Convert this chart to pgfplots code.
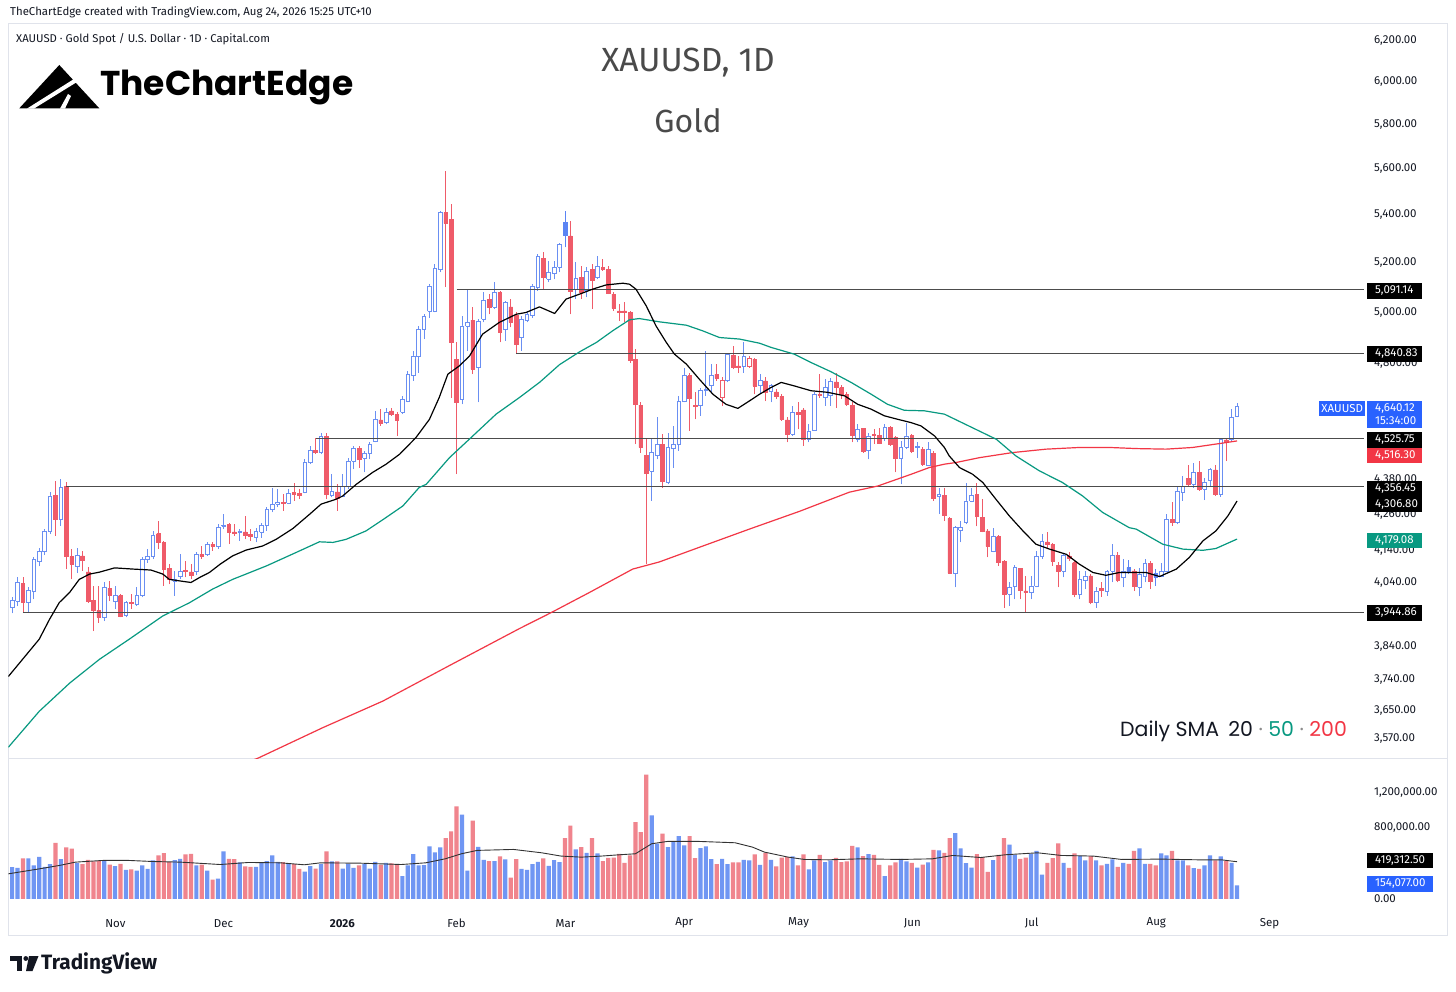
\documentclass[border=0pt]{standalone}
\usepackage{graphicx}
\usepackage{pgfplots}
\pgfplotsset{compat=1.18}
\usepackage{pgfplotstable}
\usepackage{fontspec}
\setmainfont{Fira Sans}
\newfontfamily\pop{Poppins}
\definecolor{cblue}{HTML}{6A8FF2}
\definecolor{cbluef}{HTML}{5B84F4}
\definecolor{cred}{HTML}{EF5B69}
\definecolor{vblue}{HTML}{7096F3}
\definecolor{vred}{HTML}{F0848D}
\definecolor{smagreen}{HTML}{089981}
\definecolor{smared}{HTML}{F23645}
\definecolor{tvblue}{HTML}{2962FF}
\definecolor{framec}{HTML}{E0E3EB}
\definecolor{ink}{HTML}{131722}
\definecolor{titlegray}{HTML}{4A4A4A}
\newcommand\lbl{\fontsize{11.5}{13}\selectfont}
\pgfplotsset{
 wk1/.style={draw=cblue, line width=0.8pt, forget plot},
 wk2/.style={draw=cred, line width=0.8pt, forget plot},
 wk3/.style={draw=cbluef, line width=0.8pt, forget plot},
 wk4/.style={draw=cred, line width=0.8pt, forget plot},
 bd1/.style={draw=cblue, fill=white, line width=0.8pt, forget plot},
 bd2/.style={draw=cred, fill=cred, line width=0.6pt, forget plot},
 bd3/.style={draw=cbluef, fill=cbluef, line width=0.6pt, forget plot},
 bd4/.style={draw=cred, fill=white, line width=0.8pt, forget plot},
}

% i = bar index, O H L C = prices, t = candle style, V = volume (thousands), vc = volume colour
\pgfplotstableread{
i O H L C t V vc
0 3959 3994 3941 3982 1 358 1
1 3979 4055 3963 4039 1 351 1
2 4036 4055 3944.86 3974 2 456 2
3 3974 4023 3946 4014 1 456 1
4 4011 4119 3985 4111 1 377 1
5 4107 4149 4090 4137 1 475 1
6 4137 4212 4126 4206 1 362 1
7 4203 4337 4195 4324 1 392 1
8 4327 4376 4190 4245 2 633 2
9 4243 4382 4223 4353 1 449 1
10 4356.45 4371 4081 4121 2 581 2
11 4121 4146 4048 4097 2 566 2
12 4091 4149 4068 4124 1 407 1
13 4124 4140 4075 4111 2 392 2
14 4072 4087 3975 3979 2 441 2
15 3982 4027 3886 3951 2 422 2
16 3951 4027 3912 3929 2 430 2
17 3929 4038 3917 4022 1 430 1
18 4020 4043 3979 3998 2 388 2
19 3978 4027 3954 3997 1 369 1
20 3997 4001 3929 3932 2 396 2
21 3934 3979 3929 3974 1 328 1
22 3976 4001 3954 3972 2 332 2
23 3969 4022 3964 3997 1 320 1
24 3997 4119 3991 4113 1 377 1
25 4111 4146 4102 4121 1 339 1
26 4121 4206 4113 4192 1 434 1
27 4197 4239 4146 4168 2 490 2
28 4168 4173 4027 4081 2 516 2
29 4083 4097 4032 4048 2 415 2
30 4043 4075 3997 4048 1 437 1
31 4059 4129 4048 4072 1 452 1
32 4078 4107 4054 4075 2 501 2
33 4072 4097 4048 4061 2 509 2
34 4072 4135 4061 4129 1 377 1
35 4129 4155 4113 4124 2 388 2
36 4129 4170 4124 4162 1 320 1
37 4162 4169 4140 4156 2 219 2
38 4156 4228 4146 4217 1 230 1
39 4221 4262 4212 4225 1 535 1
40 4228 4234 4162 4203 2 452 2
41 4203 4228 4190 4198 2 449 2
42 4201 4212 4173 4206 1 411 1
43 4203 4256 4178 4193 2 366 2
44 4195 4212 4173 4187 2 362 2
45 4184 4217 4168 4203 1 362 1
46 4201 4234 4184 4225 1 411 1
47 4223 4285 4206 4277 1 426 1
48 4277 4353 4268 4296 1 490 1
49 4296 4347 4285 4302 1 418 1
50 4302 4330 4273 4298 2 415 2
51 4299 4347 4296 4333 1 403 1
52 4336 4370 4307 4330 2 392 2
53 4333 4347 4313 4327 2 339 2
54 4336 4451 4333 4442 1 309 1
55 4442 4499 4434 4481 1 369 1
56 4483 4525.75 4469 4477 2 343 2
57 4475 4546 4469 4534 1 392 1
58 4532 4546 4313 4330 2 535 2
59 4327 4399 4319 4341 1 422 1
60 4338 4364 4273 4315 2 422 2
61 4324 4399 4319 4358 1 343 1
62 4356 4457 4347 4445 1 396 1
63 4445 4499 4416 4489 1 351 1
64 4489 4499 4422 4451 2 377 2
65 4454 4481 4405 4473 1 392 1
66 4473 4511 4451 4505 1 343 1
67 4516 4625 4511 4592 1 418 1
68 4592 4631 4570 4580 2 385 2
69 4582 4637 4576 4621 1 407 1
70 4625 4634 4607 4613 2 400 2
71 4613 4619 4534 4592 2 385 2
72 4619 4680 4613 4668 1 256 1
73 4661 4773 4656 4761 1 377 1
74 4758 4850 4736 4830 1 505 1
75 4827 4946 4767 4934 1 377 1
76 4934 4992 4895 4982 1 381 1
77 5005 5112 4979 5105 1 592 1
78 5005 5194 4999 5177 1 524 1
79 5173 5417 5160 5410 1 581 1
80 5410 5591 5100 5364 2 686 2
81 5382 5446 4674 4882 2 762 2
82 4818 4882 4399 4656 2 1044 2
83 4668 4986 4649 4946 1 950 1
84 4946 5088 4850 4960 1 320 1
85 4969 5019 4761 4780 2 882 2
86 4786 4973 4656 4963 1 588 1
87 4973 5079 4960 5048 1 441 1
88 5052 5072 4992 5019 2 426 2
89 5019 5119 5012 5079 1 426 1
90 5079 5085 4882 4921 2 479 2
91 4934 5045 4888 5039 1 445 1
92 5021 5052 4940 4960 2 241 2
93 4986 4999 4840.83 4875 2 449 2
94 4901 4986 4850 4973 1 339 1
95 4969 5005 4960 4992 1 328 1
96 4986 5112 4979 5105 1 392 1
97 5099 5235 5085 5224 1 418 1
98 5218 5242 5092 5139 2 456 2
99 5132 5207 5119 5160 1 373 1
100 5154 5207 5132 5180 1 437 1
101 5180 5283 5160 5276 1 415 1
102 5368 5417 5263 5315 3 686 2
103 5311 5374 4992 5085 2 826 2
104 5092 5201 5052 5135 1 558 1
105 5139 5186 5052 5079 2 584 2
106 5085 5180 5059 5166 1 520 1
107 5171 5194 5012 5129 2 686 2
108 5139 5228 5132 5186 1 513 1
109 5180 5214 5166 5171 2 426 2
110 5171 5186 5072 5076 2 464 2
111 5072 5079 5005 5015 2 467 2
112 5005 5032 4966 5001 2 507 2
113 5005 5039 4961 4999 2 407 2
114 4999 5005 4805 4815 2 490 2
115 4818 4856 4505 4649 2 867 2
116 4646 4656 4475 4493 2 754 2
117 4466 4528 4097 4402 2 1402 2
118 4409 4522 4307 4475 1 943 1
119 4466 4601 4451 4505 1 622 1
120 4505 4540 4353 4376 2 735 2
121 4370 4546 4364 4493 1 584 1
122 4489 4570 4422 4505 1 648 1
123 4505 4680 4481 4661 1 709 1
124 4661 4786 4656 4755 1 603 1
125 4755 4767 4552 4670 2 709 2
126 4646 4694 4594 4643 2 460 2
127 4643 4711 4607 4702 1 573 1
128 4699 4850 4680 4705 1 592 1
129 4717 4799 4694 4757 1 449 1
130 4761 4799 4736 4745 2 392 2
131 4674 4749 4643 4736 4 452 1
132 4736 4843 4730 4837 1 392 1
133 4833 4870 4780 4786 2 411 2
134 4792 4830 4767 4786 2 411 2
135 4790 4884 4767 4828 1 441 1
136 4790 4830 4786 4820 4 434 1
137 4818 4824 4686 4717 2 501 2
138 4717 4761 4686 4736 1 385 1
139 4736 4749 4661 4693 2 516 2
140 4695 4723 4656 4717 1 441 1
141 4695 4705 4668 4678 2 366 2
142 4678 4686 4588 4594 2 467 2
143 4592 4601 4511 4540 2 471 2
144 4540 4643 4534 4619 1 479 1
145 4619 4658 4558 4613 2 377 2
146 4628 4637 4499 4522 2 501 2
147 4522 4576 4511 4552 1 332 1
148 4555 4693 4552 4686 1 434 1
149 4686 4761 4674 4682 2 498 2
150 4674 4742 4643 4711 1 415 1
151 4680 4745 4643 4732 1 434 1
152 4732 4767 4637 4711 2 464 2
153 4711 4720 4668 4686 2 415 2
154 4686 4693 4643 4649 2 422 2
155 4646 4656 4511 4537 2 599 2
156 4522 4576 4511 4558 1 581 1
157 4561 4564 4475 4481 2 483 2
158 4481 4544 4451 4534 1 505 1
159 4540 4558 4505 4537 2 498 2
160 4537 4561 4505 4508 2 385 2
161 4525 4576 4516 4564 1 256 1
162 4564 4570 4499 4505 2 377 2
163 4528 4534 4405 4454 2 411 2
164 4454 4516 4364 4493 1 452 1
165 4493 4582 4487 4534 1 422 1
166 4537 4540 4475 4481 2 407 2
167 4493 4511 4457 4496 1 354 1
168 4487 4496 4428 4434 2 388 2
169 4430 4511 4426 4487 1 411 1
170 4473 4481 4307 4316 2 554 2
171 4323 4353 4262 4330 1 547 1
172 4327 4353 4239 4259 2 520 2
173 4247 4254 4065 4068 2 686 2
174 4068 4221 4022 4217 1 743 1
175 4209 4239 4168 4217 1 569 1
176 4236 4370 4228 4307 1 403 1
177 4307 4353 4302 4327 1 354 1
178 4330 4370 4221 4256 2 505 2
179 4251 4315 4201 4206 2 471 2
180 4206 4212 4119 4155 2 305 2
181 4137 4217 4135 4187 1 437 1
182 4187 4192 4091 4104 2 498 2
183 4107 4111 3959 4000 2 686 2
184 4000 4038 3964 4022 1 611 1
185 4027 4094 3985 4086 1 498 1
186 4083 4086 3985 4014 2 452 2
187 4011 4059 3943 4006 2 467 2
188 4006 4059 3985 4027 1 509 1
189 4027 4140 4022 4121 1 543 1
190 4121 4195 4113 4170 1 275 1
191 4170 4201 4146 4162 2 407 2
192 4162 4165 4091 4107 2 460 2
193 4094 4104 4022 4075 2 626 2
194 4075 4129 4054 4124 1 407 1
195 4124 4135 4107 4115 2 351 2
196 4102 4107 3991 4000 2 513 2
197 4000 4075 3985 4048 1 486 1
198 4046 4075 4017 4059 1 434 1
199 4059 4065 3969 3974 2 483 2
200 3974 4022 3959 4011 1 434 1
201 4020 4038 3994 4013 2 377 2
202 4008 4078 3997 4072 1 396 1
203 4075 4162 4038 4124 1 445 1
204 4126 4135 4038 4046 2 362 2
205 4054 4113 4022 4075 1 407 1
206 4086 4111 4065 4072 3 396 2
207 4075 4081 4011 4025 2 543 2
208 4022 4086 3995 4065 1 569 1
209 4059 4113 4038 4100 1 396 1
210 4100 4107 4017 4043 2 396 2
211 4068 4081 4027 4054 3 377 2
212 4059 4102 4054 4075 1 513 1
213 4072 4262 4070 4245 1 490 1
214 4245 4302 4223 4236 2 543 2
215 4234 4358 4228 4338 1 434 1
216 4336 4393 4307 4358 1 434 1
217 4384 4430 4358 4364 2 377 2
218 4364 4437 4353 4405 1 347 1
219 4405 4445 4341 4347 2 339 2
220 4347 4387 4310 4372 1 377 1
221 4376 4422 4358 4414 1 490 1
222 4414 4430 4324 4330 2 434 2
223 4330 4522 4322 4520 1 481 1
224 4520 4528 4445 4513 2 425 2
225 4521 4631 4516 4601 1 406 1
226 4606 4653 4601 4640.12 1 154.077 1
}\candles

\pgfplotstableread{
i P
-0.7 3749
5.0 3861
6.9 3922
8.7 3975
10.6 4006
12.4 4048
14.3 4065
16.1 4071
18.9 4085
22.3 4081
25.6 4078
27.8 4065
29.0 4048
30.9 4043
33.0 4038
34.6 4054
36.4 4070
38.4 4097
40.7 4124
43.2 4143
46.2 4156
48.7 4178
51.8 4214
54.9 4262
57.0 4296
59.8 4313
61.0 4324
63.5 4364
66.5 4405
69.0 4434
71.5 4469
74.5 4528
77.0 4594
78.8 4674
80.4 4761
82.5 4792
84.4 4830
86.8 4914
89.9 4960
93.0 4992
94.8 4999
97.3 5021
100.1 4995
102.2 5052
104.7 5072
107.1 5092
109.6 5109
112.7 5116
113.9 5112
115.1 5092
117.0 5025
118.8 4946
120.7 4882
122.2 4837
124.4 4799
126.8 4742
129.3 4686
131.7 4649
133.9 4634
136.0 4661
137.9 4686
140.0 4711
141.9 4730
144.3 4717
147.4 4699
150.5 4693
153.6 4680
156.0 4649
158.5 4631
160.9 4607
163.4 4594
165.9 4582
167.7 4570
170.2 4534
172.0 4493
172.9 4463
174.8 4422
177.2 4399
179.1 4370
181.5 4313
184.0 4256
186.5 4206
188.9 4162
191.4 4146
194.5 4129
196.9 4097
199.4 4070
201.8 4061
204.3 4070
206.1 4070
209.2 4070
211.7 4057
214.8 4081
217.2 4119
219.7 4173
222.1 4206
224.3 4256
226 4306.80
}\smaT

\pgfplotstableread{
i P
-0.7 3545
5.0 3647
10.6 3729
16.1 3800
21.6 3861
27.8 3933
32.7 3974
37.0 4017
40.7 4048
46.9 4091
52.4 4135
56.7 4170
59.2 4168
61.6 4178
65.3 4206
69.0 4251
72.1 4290
75.1 4353
76.4 4364
80.7 4457
85.0 4534
89.3 4613
93.6 4674
97.3 4730
101.0 4797
104.7 4846
107.8 4882
110.8 4927
113.9 4970
115.7 4975
119.5 4962
124.4 4949
127.4 4927
130.5 4901
134.2 4895
137.9 4879
140.0 4863
144.3 4837
147.4 4805
151.1 4770
154.8 4730
158.5 4686
161.5 4649
164.6 4627
168.3 4625
172.0 4613
181.6 4522
185.2 4463
189.5 4411
193.8 4370
197.5 4324
201.2 4268
206.1 4217
207.4 4212
212.3 4162
216.0 4146
219.7 4142
222.1 4148
226 4179.08
}\smaF

\pgfplotstableread{
i P
43.8 3506
45.3 3514
57.3 3600
68.4 3677
80.7 3782
93.6 3894
99.4 3943
106.5 4006
114.5 4081
119.4 4104
126.8 4152
136.0 4212
145.3 4272
151.1 4313
154.5 4337
159.7 4358
165.9 4399
169.2 4422
172.0 4434
174.2 4440
178.5 4457
184.6 4475
190.8 4487
196.9 4493
202.5 4493
207.4 4489
212.9 4487
217.8 4493
222.8 4507
226 4516.30
}\smaH

\pgfplotstableread{
i V
-0.7 283
5.0 339
8.7 377
11.7 415
16.8 434
21.5 434
25.9 422
31.0 415
38.4 388
43.6 411
49.5 407
53.9 385
56.9 407
64.3 403
71.8 388
76.3 407
79.9 452
82.9 509
85.8 547
92.5 558
97.7 520
101.3 483
105.0 471
108.7 483
112.1 498
115.0 509
118.0 622
120.9 648
126.8 648
133.4 633
136.6 584
138.8 528
143.2 471
146.2 445
150.6 441
156.5 452
163.9 445
169.8 452
173.5 490
178.7 467
183.3 498
189.2 520
193.6 490
199.5 483
204.7 445
212.1 449
218.7 441
223.1 441
226 419.3125
}\volsma

% build one plot per candle (wick and body) from the table
\pgfplotstablegetrowsof{\candles}
\pgfmathtruncatemacro{\cdN}{\pgfplotsretval-1}
\gdef\allW{}\gdef\allB{}
\pgfplotsforeachungrouped \cdr in {0,...,\cdN}{%
  \pgfplotstablegetelem{\cdr}{i}\of\candles \let\cdI\pgfplotsretval
  \pgfplotstablegetelem{\cdr}{O}\of\candles \let\cdO\pgfplotsretval
  \pgfplotstablegetelem{\cdr}{H}\of\candles \let\cdH\pgfplotsretval
  \pgfplotstablegetelem{\cdr}{L}\of\candles \let\cdL\pgfplotsretval
  \pgfplotstablegetelem{\cdr}{C}\of\candles \let\cdC\pgfplotsretval
  \pgfplotstablegetelem{\cdr}{t}\of\candles \let\cdT\pgfplotsretval
  \pgfmathsetmacro\cdXl{\cdI-0.34}%
  \pgfmathsetmacro\cdXr{\cdI+0.34}%
  \xdef\allW{\unexpanded\expandafter{\allW}\noexpand\addplot[wk\cdT] coordinates {(\cdI,\cdL) (\cdI,\cdH)};}%
  \xdef\allB{\unexpanded\expandafter{\allB}\noexpand\addplot[bd\cdT] coordinates {(\cdXl,\cdO) (\cdXr,\cdO) (\cdXr,\cdC) (\cdXl,\cdC) (\cdXl,\cdO)};}%
}

\newcommand\pbox[5]{% fill, centre y (px from top), text, width, height
  \fill[#1] (1366.5,{991-#2-#5/2}) rectangle ({1366.5+#4},{991-#2+#5/2});
  \node[anchor=west, inner sep=0pt, text=white, font=\lbl] at (1375,{991-#2}) {#3};
}

\begin{document}
\begin{tikzpicture}[x=1pt,y=1pt]
\useasboundingbox (0,0) rectangle (1456,991);
\fill[white] (0,0) rectangle (1456,991);

% header texts
\node[anchor=west, inner sep=0pt, font=\fontsize{11.4}{13}\selectfont, text=ink] at (10,{991-12}) {TheChartEdge created with TradingView.com, Aug 24, 2026 15:25 UTC+10};
\draw[framec, line width=1pt] (8.5,{991-23.5}) rectangle (1447,{991-935});
\draw[framec, line width=1pt] (8.5,{991-759}) -- (1447,{991-759});
\node[anchor=west, inner sep=0pt, font=\fontsize{11.3}{13}\selectfont, text=ink] at (16,{991-39}) {XAUUSD · Gold Spot / U.S. Dollar · 1D · Capital.com};

% price panel (logarithmic price scale through a coordinate transformation)
\begin{axis}[
  at={(15.5,184)}, anchor=south west, scale only axis,
  width=1356pt, height=735.5pt,
  xmin=-0.683, xmax=249.5,
  y coord trafo/.code={\pgfmathparse{ln(#1)}},
  y coord inv trafo/.code={\pgfmathparse{exp(#1)}},
  ymin=3514.1, ymax=6286.4,
  axis line style={draw=none}, tick style={draw=none},
  xtick=\empty,
  ytick={3570,3650,3740,3840,4040,4140,4260,4380,4800,5000,5200,5400,5600,5800,6000,6200},
  yticklabels={{3,570.00},{3,650.00},{3,740.00},{3,840.00},{4,040.00},{4,140.00},{4,260.00},{4,380.00},{4,800.00},{5,000.00},{5,200.00},{5,400.00},{5,600.00},{5,800.00},{6,000.00},{6,200.00}},
  yticklabel pos=right,
  yticklabel style={anchor=west, inner sep=0pt, xshift=9.5pt, font=\lbl, text=ink},
]
\allW
\allB
% horizontal levels
\addplot[black!70, line width=0.9pt] coordinates {(82,5091.14) (249.5,5091.14)};
\addplot[black!70, line width=0.9pt] coordinates {(93,4840.83) (249.5,4840.83)};
\addplot[black!70, line width=0.9pt] coordinates {(56,4525.75) (249.5,4525.75)};
\addplot[black!70, line width=0.9pt] coordinates {(10,4356.45) (249.5,4356.45)};
\addplot[black!70, line width=0.9pt] coordinates {(2,3944.86) (249.5,3944.86)};
% moving averages
\addplot[smared, line width=1.2pt, line join=round] table[x=i,y=P] {\smaH};
\addplot[smagreen, line width=1.2pt, line join=round] table[x=i,y=P] {\smaF};
\addplot[black, line width=1.2pt, line join=round] table[x=i,y=P] {\smaT};
\end{axis}

% volume panel
\begin{axis}[
  at={(15.5,95.5)}, anchor=south west, scale only axis,
  width=1356pt, height=146pt,
  xmin=-0.683, xmax=249.5,
  ymin=-82.254, ymax=1562.87,
  axis line style={draw=none}, tick style={draw=none},
  xtick={19.06,38.99,60.94,81.98,102.1,124.0,145.1,166.1,188.1,211.1,232.0},
  xticklabels={Nov,Dec,\textbf{2026},Feb,Mar,Apr,May,Jun,Jul,Aug,Sep},
  xticklabel style={anchor=center, inner sep=0pt, yshift=-17pt, font=\lbl, text=ink},
  ytick={0,800,1200},
  yticklabels={{0.00},{800,000.00},{1,200,000.00}},
  yticklabel pos=right,
  yticklabel style={anchor=west, inner sep=0pt, xshift=9.5pt, font=\lbl, text=ink},
]
\addplot[ybar, bar width=4.2pt, bar shift=0pt, fill=vblue, draw=none, restrict expr to domain={\thisrow{vc}}{1:1}] table[x=i,y=V] {\candles};
\addplot[ybar, bar width=4.2pt, bar shift=0pt, fill=vred, draw=none, restrict expr to domain={\thisrow{vc}}{2:2}] table[x=i,y=V] {\candles};
\addplot[black!80, line width=0.9pt] table[x=i,y=V] {\volsma};
\end{axis}

% titles
\node[font=\fontsize{33.5}{40}\selectfont, text=titlegray] at (688,{991-63}) {XAUUSD, 1D};
\node[font=\fontsize{32}{38}\selectfont, text=titlegray] at (688,{991-121}) {Gold};

% TheChartEdge logo
\fill[black] (19.3,{991-108.3}) -- (59.3,{991-65}) -- (99.3,{991-108.3}) -- cycle;
\fill[white] (27,{991-108.6}) -- (74,{991-79}) -- (77,{991-82}) -- (34,{991-108.6}) -- cycle;
\fill[white] (60,{991-108.6}) -- (68,{991-94}) -- (71,{991-96}) -- (65,{991-108.6}) -- cycle;
\node[anchor=west, inner sep=0pt] at (100,{991-87.5}) {\resizebox{253pt}{!}{\pop\bfseries TheChartEdge}};

% legend text
\node[anchor=west, inner sep=0pt, font=\pop\fontsize{20.5}{24}\selectfont, text=ink] at (1120,{991-731}) {Daily SMA\hspace{0.45em}20 \textcolor{black!45}{·} \textcolor{smagreen}{50} \textcolor{black!45}{·} \textcolor{smared}{200}};

% price boxes
\pbox{black}{291}{5,091.14}{55}{16}
\pbox{black}{354}{4,840.83}{55}{16}
\fill[tvblue] (1366.5,{991-428.3}) rectangle (1421.5,{991-400.7});
\node[anchor=west, inner sep=0pt, text=white, font=\lbl] at (1375,{991-408.8}) {4,640.12};
\node[anchor=west, inner sep=0pt, text=white, font=\lbl] at (1375,{991-420.9}) {15:34:00};
\fill[tvblue] (1319.3,{991-416}) rectangle (1365,{991-400.7});
\node[inner sep=0pt, text=white, font=\lbl] at (1342.2,{991-408.3}) {XAUUSD};
\pbox{black}{440}{4,525.75}{55}{16.6}
\pbox{smared}{455.8}{4,516.30}{55}{15}
\pbox{black}{488.7}{4,356.45}{55}{16}
\pbox{black}{504.2}{4,306.80}{55}{15}
\pbox{smagreen}{540.8}{4,179.08}{55}{15}
\pbox{black}{613}{3,944.86}{55}{16}
\pbox{black}{860.5}{419,312.50}{66.6}{15.6}
\pbox{tvblue}{884}{154,077.00}{66.6}{15.6}

% TradingView logo
\fill[ink] (10,{991-956}) rectangle (21.5,{991-960.5});
\fill[ink] (16.5,{991-956}) rectangle (21.5,{991-971});
\fill[ink] (25.8,{991-958.5}) circle (2.4);
\fill[ink] (29,{991-956}) -- (38.5,{991-956}) -- (32.5,{991-971}) -- (26,{991-971}) -- cycle;
\node[anchor=west, inner sep=0pt, text=ink] at (41,{991-963.5}) {\resizebox{116pt}{!}{\bfseries TradingView}};
\end{tikzpicture}
\end{document}
